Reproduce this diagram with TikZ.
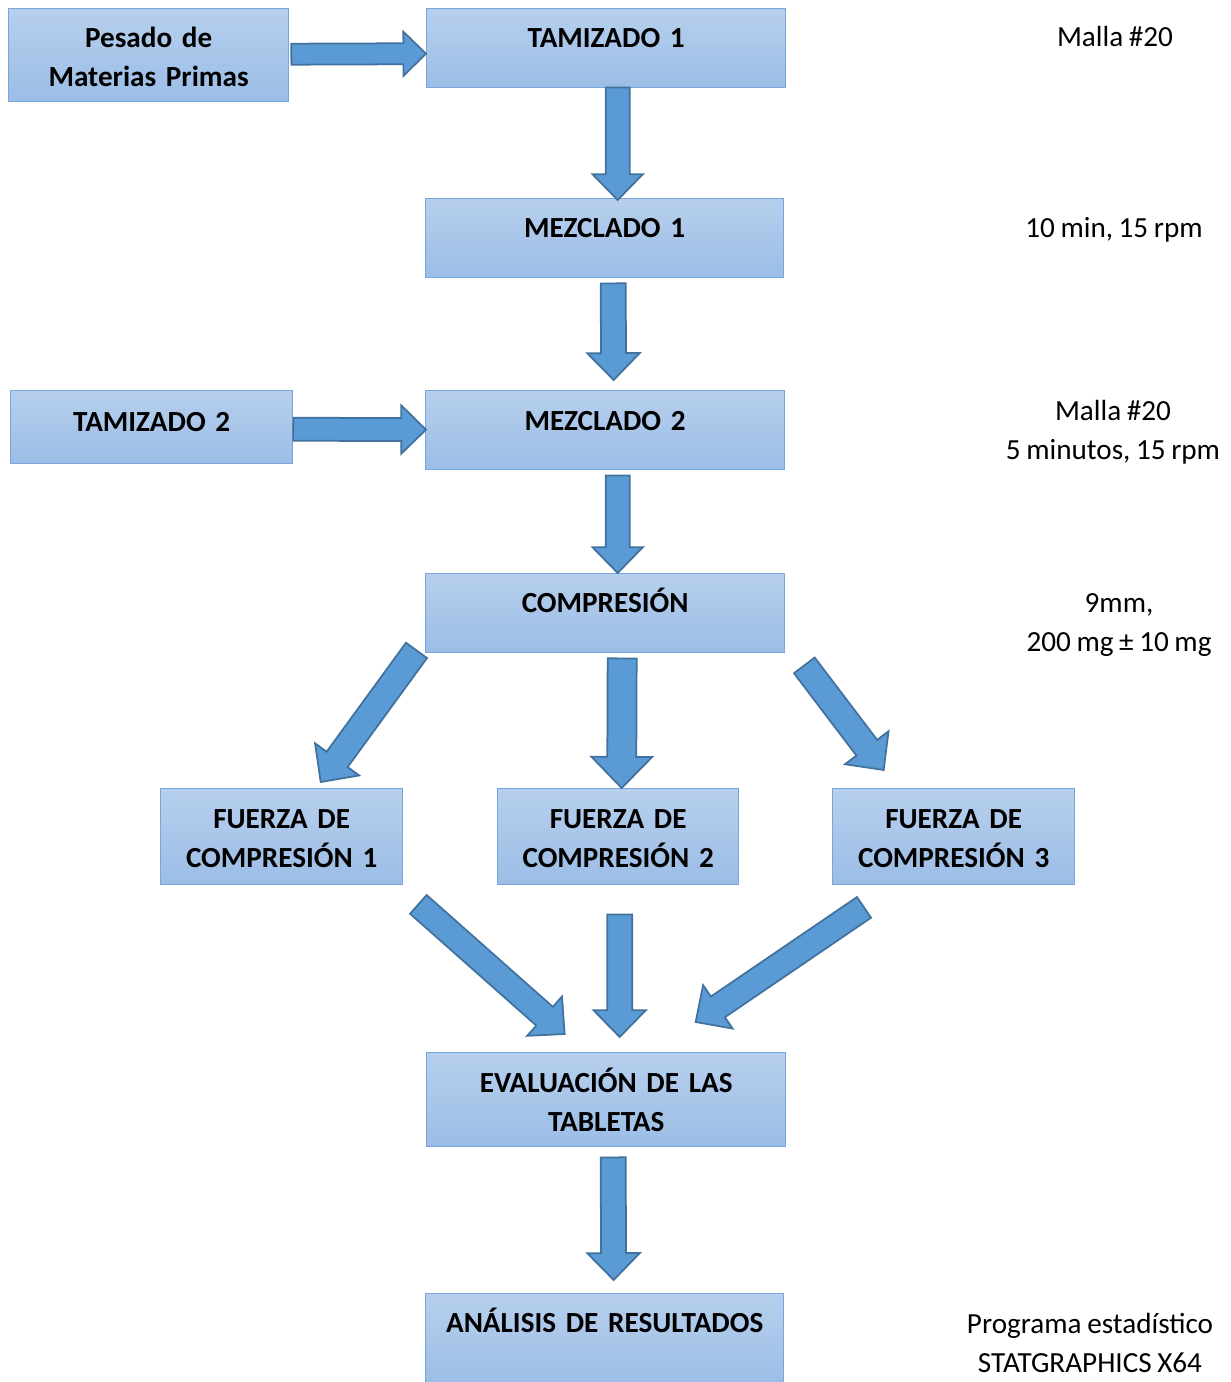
\documentclass[tikz,border=0pt]{standalone}
\usepackage{fontspec}
\setmainfont{Carlito}[WordSpace=0.85]
\usetikzlibrary{calc}

\definecolor{boxtop}{RGB}{183,207,237}
\definecolor{boxbottom}{RGB}{155,189,230}
\definecolor{boxline}{RGB}{120,165,220}
\definecolor{arrowfill}{RGB}{91,155,213}
\definecolor{arrowline}{RGB}{65,113,156}

\newcommand{\pxu}{0.02cm}
% block arrow: [half shaft] {from}{offset}{to}{offset}
\newcommand{\blockarrow}[5][12]{%
  \coordinate (tail) at ($(#2)+(#3)$);
  \coordinate (tip) at ($(#4)+(#5)$);
  \coordinate (base) at ($(tip)!{2.15*#1*\pxu}!(tail)$);
  \draw[bigarrow] ($(tail)!{#1*\pxu}!90:(tip)$) -- ($(base)!{#1*\pxu}!90:(tip)$)
    -- ($(base)!{2.1*#1*\pxu}!90:(tip)$) -- (tip)
    -- ($(base)!{2.1*#1*\pxu}!-90:(tip)$) -- ($(base)!{#1*\pxu}!-90:(tip)$)
    -- ($(tail)!{#1*\pxu}!-90:(tip)$) -- cycle;
}

\begin{document}
\begin{tikzpicture}[x=0.02cm,y=-0.02cm,
                    procbox/.style={draw=boxline,line width=0.8pt,top color=boxtop,bottom color=boxbottom,
                      anchor=north west,inner sep=0pt,align=center,text height=0.78cm,
                      font=\bfseries\fontsize{16.6}{22}\selectfont},
                    note/.style={anchor=base,align=center,font=\fontsize{16.6}{22}\selectfont},
                    bigarrow/.style={draw=arrowline,fill=arrowfill,line width=1pt,line join=miter}]
  \useasboundingbox (0,0) rectangle (1230,1382);

  % process boxes
  \node[procbox, text width=5.6cm, text depth=1.08cm] (pesado) at (8,8) {Pesado de\\Materias Primas};
  \node[procbox, text width=7.18cm, text depth=0.8cm] (tam1) at (426,8) {TAMIZADO 1};
  \node[procbox, text width=7.16cm, text depth=0.8cm] (mez1) at (425,198) {MEZCLADO 1};
  \node[procbox, text width=5.64cm, text height=0.82cm, text depth=0.64cm] (tam2) at (10,390) {TAMIZADO 2};
  \node[procbox, text width=7.18cm, text height=0.8cm, text depth=0.78cm] (mez2) at (425,390) {MEZCLADO 2};
  \node[procbox, text width=7.18cm, text depth=0.8cm] (comp) at (425,573) {COMPRESIÓN};
  \node[procbox, text width=4.84cm, text height=0.8cm, text depth=1.12cm] (fc1) at (160,788) {FUERZA DE\\COMPRESIÓN 1};
  \node[procbox, text width=4.82cm, text height=0.8cm, text depth=1.12cm] (fc2) at (497,788) {FUERZA DE\\COMPRESIÓN 2};
  \node[procbox, text width=4.84cm, text height=0.8cm, text depth=1.12cm] (fc3) at (832,788) {FUERZA DE\\COMPRESIÓN 3};
  \node[procbox, text width=7.18cm, text height=0.8cm, text depth=1.08cm] (eval) at (426,1052) {EVALUACIÓN DE LAS\\TABLETAS};
  \node[procbox, text width=7.16cm, text depth=1.1cm] (anal) at (425,1293) {ANÁLISIS DE RESULTADOS};

  % notes on the right (base = last line)
  \node[note] (n1) at (1115,47) {Malla \#20};
  \node[note] (n2) at (1114,237) {10 min, 15 rpm};
  \node[note] (n3) at (1113,459) {Malla \#20\\5 minutos, 15 rpm};
  \node[note] (n4) at (1119,651) {9mm,\\200 mg ± 10 mg};
  \node[note] (n5) at (1090,1372) {Programa estadístico\\STATGRAPHICS X64};

  % arrows
  \blockarrow[10.5]{pesado.east}{2,-1}{tam1.west}{0,5.5}
  \blockarrow{tam1.south}{11.5,-1}{mez1.north}{13,2}
  \blockarrow[12.5]{mez1.south}{8.5,5}{mez2.north}{8.5,-10}
  \blockarrow[11.5]{tam2.east}{0,2}{mez2.west}{1,-0.5}
  \blockarrow{mez2.south}{12.5,5}{comp.north}{12.5,0}
  \blockarrow[13]{comp.south west}{-8.5,-3}{fc1.north}{39,-6}
  \blockarrow[14.5]{comp.south}{17,5}{fc2.north}{3.5,0}
  \blockarrow[13]{comp.south east}{19,12}{fc3.north}{-70,-18}
  \blockarrow[12.5]{fc1.south east}{15,19}{eval.north}{-41.5,-18}
  \blockarrow[12.5]{fc2.south}{1.5,29}{eval.north}{13.5,-15}
  \blockarrow[12.5]{fc3.south west}{32,22}{eval.north}{89.5,-30}
  \blockarrow[12.5]{eval.south}{7,10}{anal.north}{9,-13}
\end{tikzpicture}
\end{document}
